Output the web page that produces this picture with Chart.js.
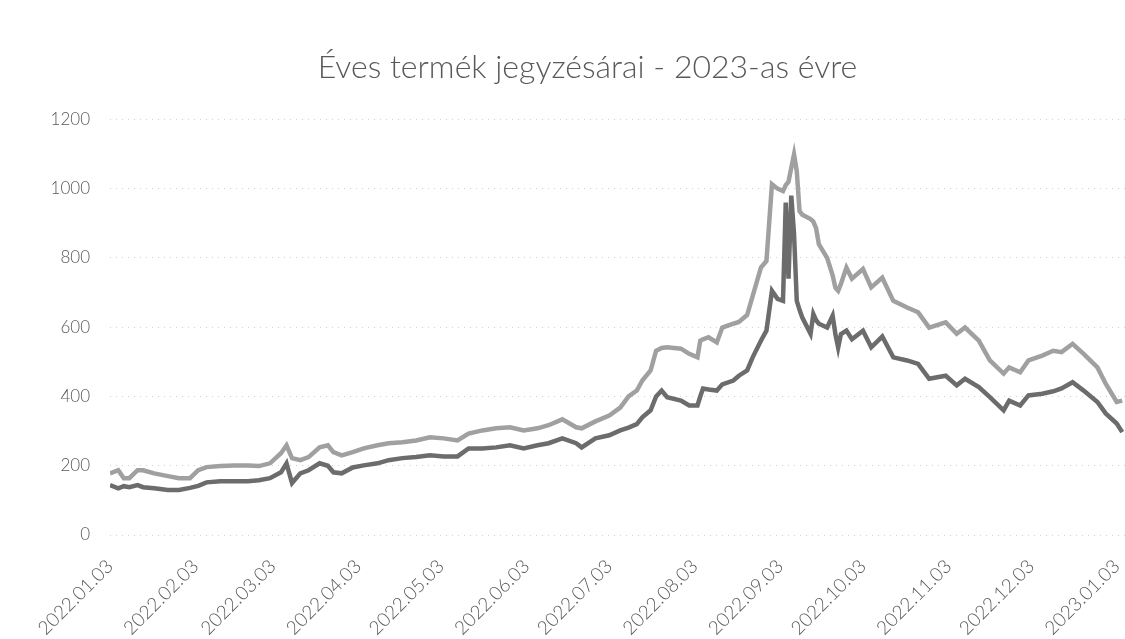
<!DOCTYPE html>
<html>
<head>
<meta charset="utf-8">
<script src="https://cdn.jsdelivr.net/npm/chart.js@4.4.1/dist/chart.umd.min.js"></script>
<style>
  html, body { margin: 0; padding: 0; background: #ffffff; }
  #wrap { width: 1125px; height: 639px; }
</style>
</head>
<body>
<div id="wrap"><canvas id="c" width="1125" height="639"></canvas></div>
<script>
const titleText = 'Éves termék jegyzésárai - 2023-as évre';

const dates = [
  '2022.01.03','2022.01.06','2022.01.08','2022.01.10','2022.01.13','2022.01.15','2022.01.19','2022.01.24','2022.01.28',
  '2022.02.01','2022.02.04','2022.02.07','2022.02.12','2022.02.17','2022.02.22','2022.02.26',
  '2022.03.02','2022.03.06','2022.03.08','2022.03.09','2022.03.10','2022.03.13','2022.03.16','2022.03.20','2022.03.23','2022.03.25','2022.03.28',
  '2022.04.01','2022.04.05','2022.04.10','2022.04.14','2022.04.19','2022.04.24','2022.04.29',
  '2022.05.04','2022.05.09','2022.05.13','2022.05.18','2022.05.23','2022.05.28',
  '2022.06.02','2022.06.07','2022.06.11','2022.06.16','2022.06.21','2022.06.23','2022.06.28',
  '2022.07.03','2022.07.07','2022.07.10','2022.07.13','2022.07.15','2022.07.18','2022.07.20','2022.07.22','2022.07.24','2022.07.29',
  '2022.08.01','2022.08.04','2022.08.05','2022.08.06','2022.08.08','2022.08.11','2022.08.13','2022.08.17','2022.08.19','2022.08.22','2022.08.24','2022.08.27','2022.08.29','2022.08.31',
  '2022.09.02','2022.09.04','2022.09.05','2022.09.06','2022.09.07','2022.09.08','2022.09.09','2022.09.10','2022.09.11','2022.09.14','2022.09.15','2022.09.16','2022.09.17','2022.09.20','2022.09.22','2022.09.23','2022.09.24','2022.09.25','2022.09.27','2022.09.29',
  '2022.10.03','2022.10.06','2022.10.10','2022.10.14','2022.10.19','2022.10.23','2022.10.27',
  '2022.11.02','2022.11.06','2022.11.09','2022.11.14','2022.11.18','2022.11.23','2022.11.25','2022.11.29',
  '2022.12.02','2022.12.07','2022.12.11','2022.12.14','2022.12.18','2022.12.22','2022.12.27','2022.12.30',
  '2023.01.03','2023.01.05'
];

const upperValues = [
  178,187,164,164,187,187,178,170,164,
  164,187,196,199,201,201,199,
  207,236,259,240,222,216,225,253,259,239,230,
  239,250,259,265,268,273,282,
  279,273,293,302,308,311,
  302,308,317,334,311,308,328,
  345,368,400,417,446,475,532,540,542,538,
  523,513,561,565,571,556,599,610,615,635,690,772,791,1013,
  1000,993,1010,1020,1060,1099,1050,935,925,912,905,886,840,800,750,714,705,725,772,740,
  768,715,743,676,657,643,599,
  614,581,599,561,504,466,484,470,
  504,518,532,528,552,523,484,437,
  384,388
];

const lowerValues = [
  144,135,141,138,144,138,135,130,130,
  136,142,152,155,155,155,158,
  164,181,207,178,150,178,187,207,200,181,178,
  195,201,207,216,222,225,230,
  227,227,250,250,253,259,
  250,259,265,279,265,253,279,
  288,302,310,320,340,360,400,417,398,388,
  374,374,400,423,420,417,435,446,460,475,513,561,590,705,
  682,676,960,740,980,870,676,650,628,581,638,620,610,599,633,580,541,580,590,565,
  590,542,573,513,504,494,451,
  460,432,451,427,398,360,388,374,
  403,408,415,423,441,417,384,351,
  322,297
];

const tickLabels = [
  '2022.01.03','2022.02.03','2022.03.03','2022.04.03','2022.05.03','2022.06.03','2022.07.03',
  '2022.08.03','2022.09.03','2022.10.03','2022.11.03','2022.12.03','2023.01.03'
];

const yMin = 0, yMax = 1200, yStep = 200;

function dayOf(s) {
  const p = s.split('.').map(Number);
  return (Date.UTC(p[0], p[1] - 1, p[2]) - Date.UTC(2022, 0, 3)) / 86400000;
}

const tickDays = tickLabels.map(dayOf);
const upperPoints = dates.map((d, i) => ({ x: dayOf(d), y: upperValues[i] }));
const lowerPoints = dates.map((d, i) => ({ x: dayOf(d), y: lowerValues[i] }));

const textColor = '#595959';

new Chart(document.getElementById('c'), {
  type: 'line',
  data: {
    datasets: [
      {
        label: 'Felső',
        data: upperPoints,
        borderColor: '#a0a0a0',
        borderWidth: 4.5,
        pointRadius: 0,
        tension: 0,
        fill: false
      },
      {
        label: 'Alsó',
        data: lowerPoints,
        borderColor: '#6c6c6c',
        borderWidth: 4.5,
        pointRadius: 0,
        tension: 0,
        fill: false
      }
    ]
  },
  options: {
    responsive: false,
    animation: false,
    layout: { padding: { left: 50, right: 0, top: 0, bottom: 0 } },
    plugins: {
      legend: { display: false },
      tooltip: { enabled: false },
      title: {
        display: true,
        text: titleText,
        color: textColor,
        font: { family: 'Lato', size: 32, weight: '300' },
        padding: { top: 48, bottom: 33 }
      }
    },
    scales: {
      x: {
        type: 'linear',
        min: 0,
        max: 368,
        grid: { display: false },
        border: { display: false },
        afterBuildTicks: (scale) => {
          scale.ticks = tickDays.map(v => ({ value: v }));
        },
        afterFit: (scale) => {
          scale.height = 104;
          scale.paddingLeft = 0;
          scale.paddingRight = 0;
        },
        ticks: {
          autoSkip: false,
          minRotation: 45,
          maxRotation: 45,
          padding: 12,
          color: textColor,
          font: { family: 'Lato', size: 19, weight: '300' },
          callback: (value, index) => tickLabels[index]
        }
      },
      y: {
        min: yMin,
        max: yMax,
        afterFit: (scale) => { scale.width = 60; },
        grid: { color: 'rgba(150,150,150,0.45)', lineWidth: 1, drawTicks: false },
        border: { display: false, dash: [1, 5] },
        ticks: {
          stepSize: yStep,
          padding: 20,
          color: textColor,
          font: { family: 'Lato', size: 17, weight: '300' },
          callback: (value) => String(value)
        }
      }
    }
  }
});
</script>
</body>
</html>
